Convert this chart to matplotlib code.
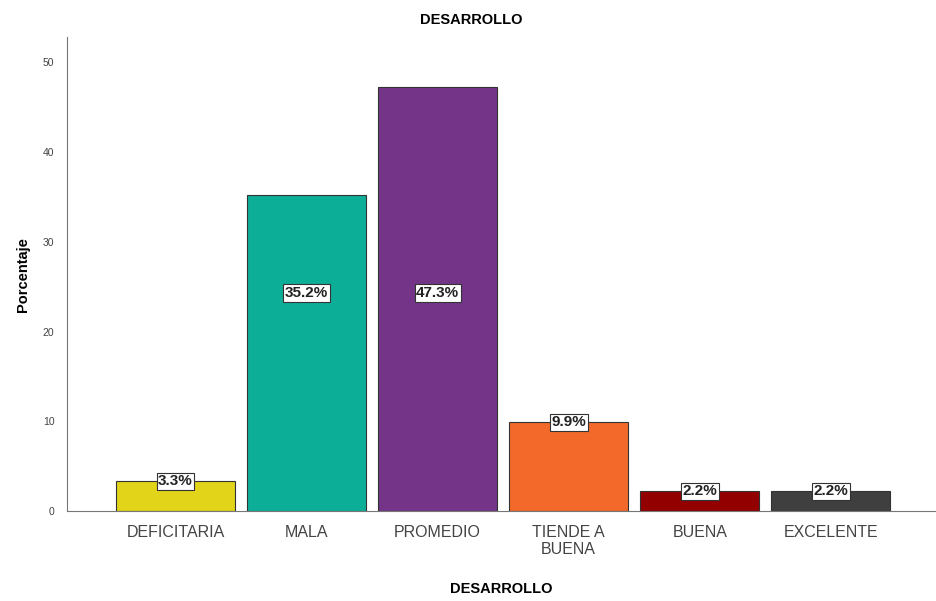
import matplotlib
matplotlib.use("Agg")
import matplotlib.pyplot as plt

# Datos del gráfico
categorias = ["DEFICITARIA", "MALA", "PROMEDIO", "TIENDE A\nBUENA", "BUENA", "EXCELENTE"]
porcentajes = [3.3, 35.2, 47.3, 9.9, 2.2, 2.2]
colores = ["#E2D418", "#0DAE98", "#743589", "#F2692A", "#930000", "#3F3F3F"]
y_ticks = [0, 10, 20, 30, 40, 50]

plt.rcParams['font.family'] = ['Liberation Sans', 'DejaVu Sans']

fig = plt.figure(figsize=(9.36, 6.01), dpi=100)
ax = fig.add_axes([0.0716, 0.1498, 0.928, 0.788])

x = list(range(len(categorias)))
barras = ax.bar(x, porcentajes, width=0.91, color=colores, edgecolor="#333333", linewidth=0.8)

# Etiquetas de porcentaje
for xi, v in zip(x, porcentajes):
    y_lab = 24.3 if v > 20 else v
    ax.text(xi, y_lab, f"{v}%", ha="center", va="center", fontsize=11, fontweight="bold",
            color="#222222",
            bbox=dict(boxstyle="square,pad=0.1", facecolor="white", edgecolor="#333333", linewidth=0.8))

ax.set_xlim(-0.828, 5.8)
ax.set_ylim(0, 52.8)
ax.set_xticks(x)
ax.set_xticklabels(categorias, fontsize=11.5, color="#444444", linespacing=1.15)
ax.set_yticks(y_ticks)
ax.set_yticklabels([str(t) for t in y_ticks], fontsize=7.5, color="#444444")
ax.tick_params(axis="both", length=0)
ax.tick_params(axis="y", pad=9)
ax.tick_params(axis="x", pad=10)

for s in ["top", "right"]:
    ax.spines[s].set_visible(False)
ax.spines["left"].set_color("#777777")
ax.spines["bottom"].set_color("#777777")

# Título centrado sobre la figura
fig.suptitle("DESARROLLO", x=0.504, y=0.967, va="center", fontsize=10.5, fontweight="bold")
ax.set_xlabel("DESARROLLO", fontsize=10.5, fontweight="bold", labelpad=18)
ax.set_ylabel("Porcentaje", fontsize=10.5, fontweight="bold", labelpad=9)

fig.savefig("out.png", dpi=100)
